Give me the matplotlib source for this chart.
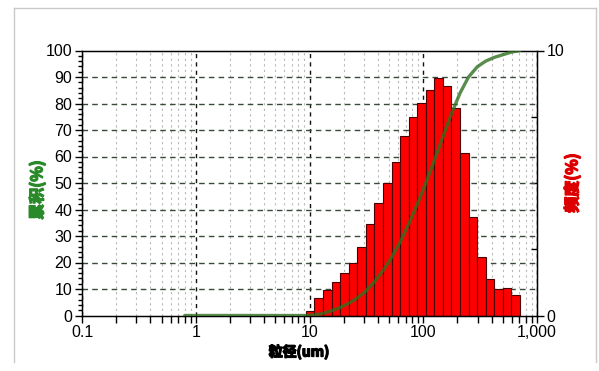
import matplotlib
matplotlib.use("Agg")
import matplotlib.pyplot as plt
import matplotlib.patheffects as pe
from matplotlib.ticker import FixedLocator, NullFormatter, FixedFormatter
from matplotlib.lines import Line2D

plt.rcParams['font.family'] = ['Liberation Sans', 'Noto Sans CJK SC', 'DejaVu Sans']

# ---- data ----
bin_edges = [9.3, 11.06, 13.15, 15.64, 18.6, 22.12, 26.3, 31.28, 37.2, 44.24,
             52.61, 62.56, 74.4, 88.48, 105.2, 125.1, 148.8, 177.0, 210.4,
             250.2, 297.6, 353.9, 420.9, 500.5, 595.2, 707.8]
frequency = [0.17, 0.65, 0.96, 1.25, 1.62, 1.99, 2.60, 3.45, 4.23, 4.99,
             5.78, 6.77, 7.48, 8.03, 8.51, 8.95, 8.67, 7.82, 6.12, 3.73,
             2.22, 1.37, 0.99, 1.05, 0.77]
cum_x = [0.8] + bin_edges
cumulative = [0, 0, 0.2, 0.8, 1.8, 3.0, 4.6, 6.6, 9.2, 12.7, 16.9, 21.9,
              27.7, 34.5, 41.9, 50.0, 58.5, 67.4, 76.1, 83.9, 90.0, 93.8,
              96.0, 97.4, 98.4, 99.4, 100.0]
x_ticks = [0.1, 1, 10, 100, 1000]
x_ticklabels = ["0.1", "1", "10", "100", "1,000"]
left_ticks = list(range(0, 101, 10))
right_ticks = [0, 10]

W, H = 599, 371
fig = plt.figure(figsize=(W / 100, H / 100), dpi=100)
fig.patch.set_facecolor('white')
L, R, T, B = 82, 537, 50.5, 315.5
ax = fig.add_axes([L / W, 1 - B / H, (R - L) / W, (B - T) / H])
ax2 = ax.twinx()

# frequency bars on base axes (y-axis on the right)
widths = [bin_edges[i + 1] - bin_edges[i] for i in range(len(frequency))]
ax.bar(bin_edges[:-1], frequency, width=widths, align='edge',
       color='#ff0000', edgecolor='#4a0000', linewidth=0.8, zorder=2)
ax.set_xscale('log')
ax.set_xlim(0.1, 1000)
ax.set_ylim(0, 10)
ax.yaxis.tick_right()
ax.yaxis.set_major_locator(FixedLocator(right_ticks))
ax.yaxis.set_minor_locator(FixedLocator([2.5, 5, 7.5]))
ax.tick_params(axis='y', which='major', direction='out', length=5, width=1,
               labelsize=11.5, pad=2)
ax.tick_params(axis='y', which='minor', direction='in', length=4, width=1)

ax.xaxis.set_major_locator(FixedLocator(x_ticks))
ax.xaxis.set_major_formatter(FixedFormatter(x_ticklabels))
minors = [m * 10.0 ** d for d in range(-1, 3) for m in range(2, 10)]
ax.xaxis.set_minor_locator(FixedLocator(minors))
ax.xaxis.set_minor_formatter(NullFormatter())
ax.tick_params(axis='x', which='both', direction='out', length=5, width=1,
               labelsize=11.5, pad=2)

# grid
ax.set_axisbelow(True)
ax.grid(True, which='major', axis='x', color='#111111', linestyle=(0, (3, 3)),
        linewidth=1.0)
ax.grid(True, which='minor', axis='x', color='#b8b8b8', linestyle=(0, (2, 3)),
        linewidth=0.8)
for v in range(1, 10):
    ax.axhline(v, color='#3a4a3a', linestyle=(0, (4, 3)), linewidth=1.0, zorder=0.6)

for s in ax.spines.values():
    s.set_color('black')
    s.set_linewidth(1)

# cumulative curve on twin axes (y-axis on the left)
ax2.yaxis.tick_left()
ax2.plot(cum_x, cumulative, color='#2f7020', linewidth=2.4, alpha=0.8,
         solid_capstyle='round', zorder=3)
ax2.set_ylim(0, 100)
ax2.yaxis.set_major_locator(FixedLocator(left_ticks))
ax2.yaxis.set_minor_locator(FixedLocator(list(range(0, 101, 2))))
ax2.tick_params(axis='y', which='major', direction='out', length=5, width=1,
                labelsize=11.5, pad=2)
ax2.tick_params(axis='y', which='minor', direction='out', length=3, width=1)
ax2.tick_params(axis='y', which='both', right=False, labelright=False,
                left=True, labelleft=True)
ax.tick_params(axis='y', which='both', left=False, labelleft=False,
               right=True, labelright=True)

# axis labels (stroke to imitate heavy bold)
def bold(c):
    return [pe.withStroke(linewidth=1.0, foreground=c)]

fig.text(37 / W, 1 - 190 / H, "累积(%)", rotation=90, ha='center', va='center',
         color='#2a8a2a', fontsize=11.5, fontweight='bold',
         family=['Noto Sans CJK SC', 'DejaVu Sans'], path_effects=bold('#2a8a2a'))
fig.text(572 / W, 1 - 183 / H, "频度(%)", rotation=90, ha='center', va='center',
         color='#dd0000', fontsize=11.5, fontweight='bold',
         family=['Noto Sans CJK SC', 'DejaVu Sans'], path_effects=bold('#dd0000'))
fig.text(299 / W, 1 - 352 / H, "粒径(um)", ha='center', va='center',
         color='black', fontsize=10, fontweight='bold',
         family=['Noto Sans CJK SC', 'DejaVu Sans'], path_effects=bold('black'))

# outer light frame
fc = '#c9c9c9'
fig.add_artist(Line2D([14 / W, 14 / W], [1 - 8 / H, 1 - 362 / H], color=fc, lw=1))
fig.add_artist(Line2D([14 / W, 596 / W], [1 - 8 / H, 1 - 8 / H], color=fc, lw=1))
fig.add_artist(Line2D([596 / W, 596 / W], [1 - 8 / H, 1 - 362 / H], color=fc, lw=1))

fig.savefig("out.png", dpi=100)
